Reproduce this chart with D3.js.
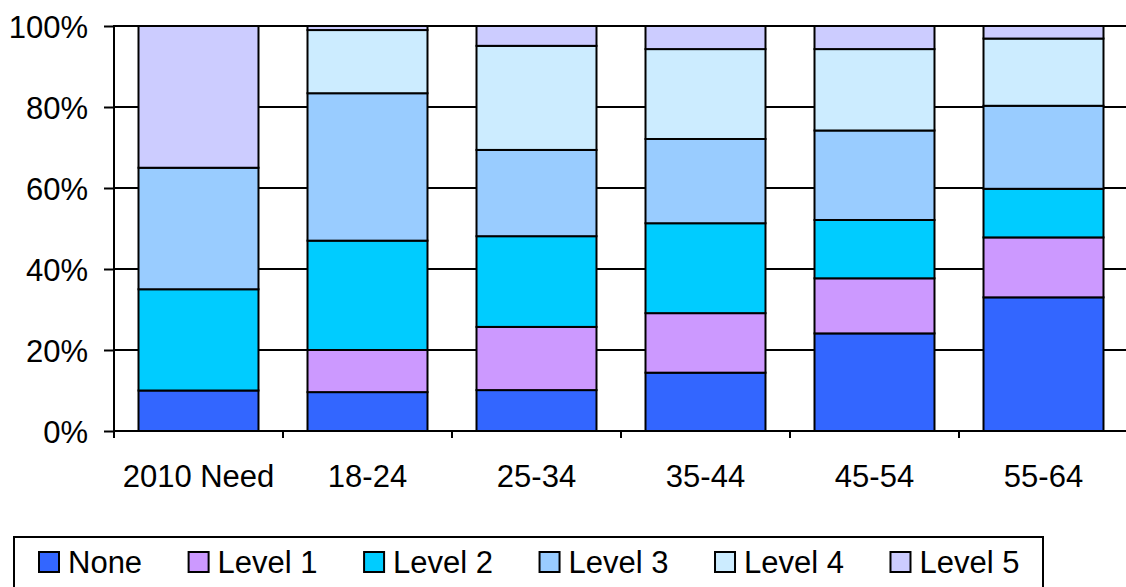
<!DOCTYPE html>
<html>
<head>
<meta charset="utf-8">
<script src="https://cdn.jsdelivr.net/npm/d3@7"></script>
<style>
  html, body { margin: 0; padding: 0; background: #fff; }
  svg { display: block; font-family: "Liberation Sans", Arial, sans-serif; }
</style>
</head>
<body>
<svg id="chart" width="1126" height="587"></svg>
<script>
const categories = ["2010 Need", "18-24", "25-34", "35-44", "45-54", "55-64"];
const seriesNames = ["None", "Level 1", "Level 2", "Level 3", "Level 4", "Level 5"];
const none   = [10,   9.6, 10.1, 14.4, 24.1, 33.0];
const level1 = [0,   10.4, 15.6, 14.7, 13.6, 14.8];
const level2 = [25,  27.0, 22.4, 22.2, 14.4, 12.0];
const level3 = [30,  36.4, 21.3, 20.8, 22.1, 20.5];
const level4 = [0,   15.6, 25.7, 22.2, 20.1, 16.6];
const level5 = [35,   1.0,  4.9,  5.7,  5.7,  3.1];
const yTicks = [0, 20, 40, 60, 80, 100];
const colors = ["#3366FF", "#CC99FF", "#00CCFF", "#99CCFF", "#CCECFF", "#CCCCFF"];

const seriesValues = [none, level1, level2, level3, level4, level5];
const rows = categories.map((c, i) => {
  const r = { cat: c };
  seriesNames.forEach((s, j) => r[s] = seriesValues[j][i]);
  return r;
});

const svg = d3.select("#chart");
const mLeft = 114, mTop = 26, mBottom = 431, mRight = 1128;
const FS = 31;

const x = d3.scaleBand().domain(categories).range([mLeft, mRight]).paddingInner(0.29).paddingOuter(0.145);
const y = d3.scaleLinear().domain([0, 100]).range([mBottom, mTop]);

// gridlines
svg.append("g").selectAll("line").data(yTicks.filter(d => d > 0)).join("line")
  .attr("x1", mLeft).attr("x2", 1126)
  .attr("y1", d => y(d)).attr("y2", d => y(d))
  .attr("stroke", "#000").attr("stroke-width", 2);

// bars
const stack = d3.stack().keys(seriesNames)(rows);
svg.append("g").selectAll("g").data(stack).join("g")
  .attr("fill", (d, i) => colors[i])
  .selectAll("rect").data(d => d).join("rect")
  .attr("x", d => x(d.data.cat))
  .attr("width", x.bandwidth())
  .attr("y", d => y(d[1]))
  .attr("height", d => y(d[0]) - y(d[1]))
  .attr("stroke", "#000").attr("stroke-width", 2);

// y axis
const yAxis = d3.axisLeft(y).tickValues(yTicks).tickFormat(d => d + "%").tickSize(10).tickPadding(16);
const gy = svg.append("g").attr("transform", `translate(${mLeft},0)`).call(yAxis);
gy.select(".domain").remove();
gy.selectAll(".tick line").attr("stroke", "#000").attr("stroke-width", 2);
gy.selectAll(".tick text").attr("font-size", FS).attr("fill", "#000")
  .attr("font-family", "'Liberation Sans', Arial, sans-serif").attr("dy", "0.36em");
svg.append("line").attr("x1", mLeft).attr("x2", mLeft).attr("y1", mTop - 1).attr("y2", mBottom + 7)
  .attr("stroke", "#000").attr("stroke-width", 2);

// x axis
svg.append("line").attr("x1", mLeft).attr("x2", 1126).attr("y1", mBottom).attr("y2", mBottom)
  .attr("stroke", "#000").attr("stroke-width", 2);
const step = x.step();
svg.append("g").selectAll("line").data(categories.slice(1)).join("line")
  .attr("x1", d => x(d) - (step - x.bandwidth()) / 2)
  .attr("x2", d => x(d) - (step - x.bandwidth()) / 2)
  .attr("y1", mBottom).attr("y2", mBottom + 7)
  .attr("stroke", "#000").attr("stroke-width", 2);
svg.append("g").selectAll("text").data(categories).join("text")
  .attr("x", d => x(d) + x.bandwidth() / 2)
  .attr("y", 487)
  .attr("text-anchor", "middle")
  .attr("font-size", FS)
  .attr("fill", "#000")
  .text(d => d);

// legend
const lg = svg.append("g");
lg.append("rect").attr("x", 14).attr("y", 537).attr("width", 1029).attr("height", 80)
  .attr("fill", "#fff").attr("stroke", "#000").attr("stroke-width", 2);
let lx = 39;
seriesNames.forEach((s, i) => {
  lg.append("rect").attr("x", lx).attr("y", 552).attr("width", 20).attr("height", 20)
    .attr("fill", colors[i]).attr("stroke", "#000").attr("stroke-width", 2);
  const t = lg.append("text").attr("x", lx + 29).attr("y", 573)
    .attr("font-size", FS).attr("fill", "#000").text(s);
  const w = t.node().getComputedTextLength();
  lx += 29 + w + 46.5;
});
</script>
</body>
</html>
